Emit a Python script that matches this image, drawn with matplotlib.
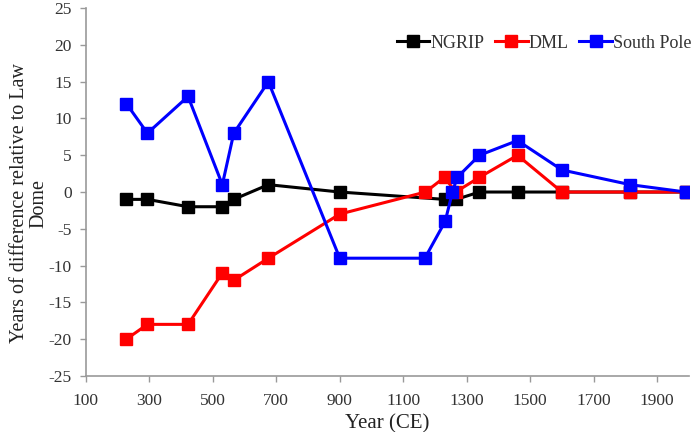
import matplotlib
matplotlib.use("Agg")
import matplotlib.pyplot as plt

plt.rcParams['font.family'] = ['Liberation Serif', 'DejaVu Serif']
plt.rcParams['axes.unicode_minus'] = False

ngrip_x = [228, 294, 422, 530, 566, 675, 900, 1230, 1267, 1340, 1460, 1600, 1815, 1990]
ngrip_y = [-1, -1, -2, -2, -1, 1, 0, -1, -1, 0, 0, 0, 0, 0]

dml_x = [228, 294, 422, 530, 566, 675, 900, 1170, 1230, 1265, 1340, 1460, 1600, 1815, 1990]
dml_y = [-20, -18, -18, -11, -12, -9, -3, 0, 2, 0, 2, 5, 0, 0, 0]

sp_x = [228, 294, 422, 530, 566, 675, 900, 1168, 1232, 1255, 1270, 1340, 1460, 1600, 1815, 1990]
sp_y = [12, 8, 13, 1, 8, 15, -9, -9, -4, 0, 2, 5, 7, 3, 1, 0]

xticks = [100, 300, 500, 700, 900, 1100, 1300, 1500, 1700, 1900]
yticks = list(range(-25, 30, 5))

fig = plt.figure(figsize=(6.98, 4.32), dpi=100)
ax = fig.add_axes([0.123, 0.130, 0.864, 0.851])

kw = dict(lw=2.2, marker='s', ms=8)
ax.plot(ngrip_x, ngrip_y, color='black', label='NGRIP', **kw)
ax.plot(dml_x, dml_y, color='#ff0000', label='DML', **kw)
ax.plot(sp_x, sp_y, color='#0000ff', label='South Pole', **kw)

ax.set_xlim(100, 2000)
ax.set_ylim(-25, 25)
ax.set_xticks(xticks)
ax.set_yticks(yticks)
ax.tick_params(labelsize=12.5, color='#999999', length=4, width=1, labelcolor='#333333')
ax.tick_params(axis='x', pad=8)
ax.tick_params(axis='y', pad=6)
for s in ['top', 'right']:
    ax.spines[s].set_visible(False)
for s in ['left', 'bottom']:
    ax.spines[s].set_color('#999999')
    ax.spines[s].set_linewidth(1.2)

ax.set_xlabel('Year (CE)', fontsize=15, labelpad=4, color='#222222')
ax.set_ylabel('Years of difference relative to Law\nDome', fontsize=14.5,
              linespacing=1.0, color='#222222')
ax.yaxis.set_label_coords(-0.062, 0.47)

ax.legend(loc='upper right', bbox_to_anchor=(1.016, 0.948), ncol=3, frameon=False,
          fontsize=13, handlelength=1.8, handletextpad=0.05, columnspacing=0.6,
          borderaxespad=0, labelcolor='#333333')

fig.savefig('out.png', dpi=100)
